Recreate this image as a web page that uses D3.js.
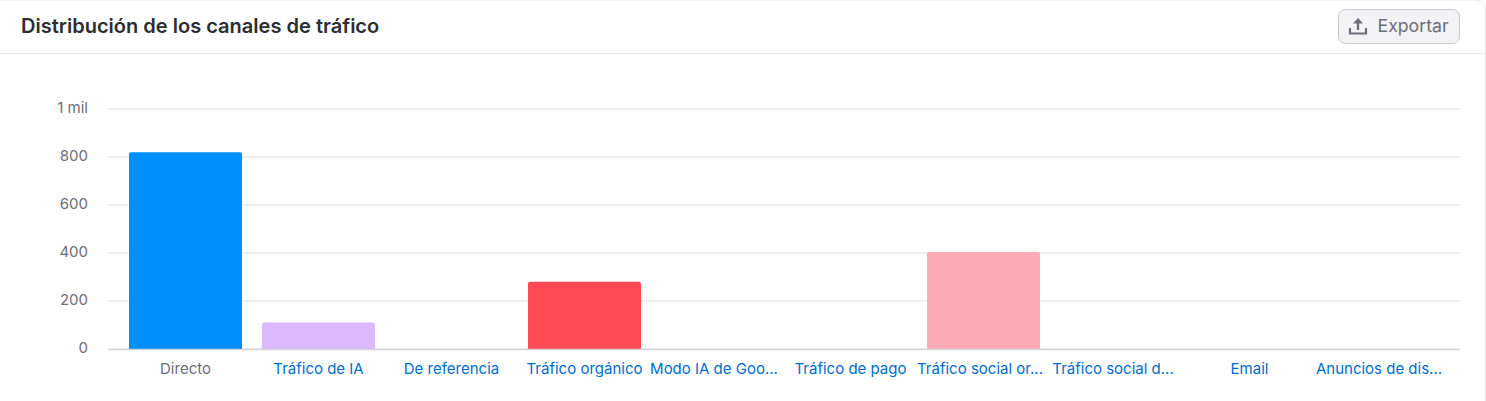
<!DOCTYPE html>
<html><head><meta charset="utf-8">
<script src="https://cdn.jsdelivr.net/npm/d3@7/dist/d3.min.js"></script>
<style>
html,body{margin:0;padding:0;background:#fff;overflow:hidden}
text{font-family:Inter,sans-serif}
</style></head><body>
<svg id="c" width="1486" height="401"></svg>
<script>
const categories=["Directo","Tráfico de IA","De referencia","Tráfico orgánico","Modo IA de Goo...","Tráfico de pago","Tráfico social or...","Tráfico social d...","Email","Anuncios de dis..."];
const values=[820,110,0,280,0,0,404,0,0,0];
const barColors=["#008ffb","#dcb9fd","#98d8f8","#ff4953","#9b72e8","#ffb37c","#ffabb6","#c9405f","#7fd1b9","#ffd166"];
const yTicks=[0,200,400,600,800,1000];
const title="Distribución de los canales de tráfico";
const exportLabel="Exportar";

const svg=d3.select("#c");
const W=1486;
// card
svg.append("path").attr("d",`M0,0H${W-10}Q${W-0.5},0 ${W-0.5},10V401`).attr("fill","none").attr("stroke","#e6e7ec").attr("stroke-width",1);
svg.append("line").attr("x1",0).attr("x2",W-1).attr("y1",53.5).attr("y2",53.5).attr("stroke","#e6e7eb");
svg.append("text").attr("x",21).attr("y",33).attr("font-size",20.05).attr("font-weight",600).attr("fill","#2b2e33").text(title);
// export button
const b=svg.append("g");
b.append("rect").attr("x",1338.5).attr("y",9.5).attr("width",121).attr("height",34).attr("rx",7).attr("fill","#f3f3f5").attr("stroke","#c7c8d1");
b.append("path").attr("d","M1350,28V33.5H1366V28").attr("fill","none").attr("stroke","#6c6e79").attr("stroke-width",2.2);
b.append("path").attr("d","M1358,30V21").attr("stroke","#6c6e79").attr("stroke-width",2.4);
b.append("path").attr("d","M1353,23.5L1358,18L1363,23.5Z").attr("fill","#6c6e79");
b.append("text").attr("x",1377.5).attr("y",32).attr("font-size",17.7).attr("fill","#6c6e79").text(exportLabel);

const y=d3.scaleLinear().domain([0,1000]).range([349,109]);
const x=d3.scaleBand().domain(categories).range([119,1449]).paddingInner(0.15).paddingOuter(0.075);

const fmt=d=>d>=1000?(d/1000)+" mil":String(d);
const gy=svg.append("g").attr("transform","translate(108,0)").call(d3.axisLeft(y).tickValues(yTicks).tickSize(-1352).tickPadding(20).tickFormat(fmt));
gy.select(".domain").remove();
gy.selectAll(".tick line").attr("stroke","#e9e9ee").attr("stroke-width",1.5).attr("transform","translate(0,-0.5)");
gy.selectAll(".tick text").attr("font-size",15).attr("fill","#6c6e79").attr("font-family","Inter,sans-serif").attr("transform","translate(0,-1)");

svg.append("g").selectAll("path").data(categories).join("path")
 .attr("d",(c,i)=>{const x0=x(c),w=x.bandwidth(),t=y(values[i]),bt=y(0),r=2;
   return values[i]>0?`M${x0},${bt}V${t+r}Q${x0},${t} ${x0+r},${t}H${x0+w-r}Q${x0+w},${t} ${x0+w},${t+r}V${bt}Z`:"";})
 .attr("fill",(c,i)=>barColors[i]);

const gx=svg.append("g").attr("transform","translate(0,349)").call(d3.axisBottom(x).tickSize(0).tickPadding(14));
gx.select(".domain").attr("d","M108,0.5H1460").attr("stroke","#d1d4db").attr("stroke-width",1.5);
gx.selectAll(".tick text").attr("font-size",15).attr("font-family","Inter,sans-serif").attr("fill",(c,i)=>i===0?"#6c6e79":"#006dca")
  .attr("dx",c=>c.endsWith("...")?-3.5:0);
</script>
</body></html>
